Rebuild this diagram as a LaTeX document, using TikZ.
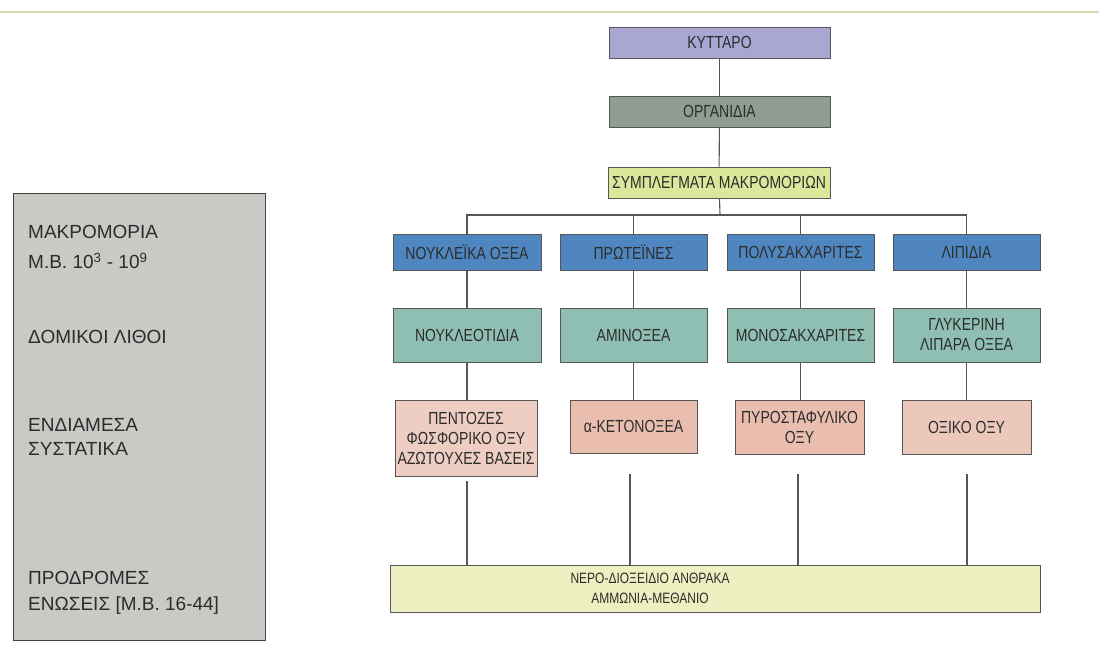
\documentclass[tikz,border=0pt]{standalone}
\usepackage{fontspec}
\setmainfont{Liberation Sans}
\newfontfamily\boxfont[FakeStretch=0.8]{Liberation Sans}
\definecolor{cellc}{HTML}{A9A6D4}
\definecolor{orgc}{HTML}{8F9C91}
\definecolor{cplxc}{HTML}{DDE79B}
\definecolor{macroc}{HTML}{4F86BF}
\definecolor{unitc}{HTML}{8FBFB2}
\definecolor{midc}{HTML}{E9BEAF}
\definecolor{basec}{HTML}{EEF0C2}
\definecolor{panelc}{HTML}{C9C9C6}
\definecolor{inkc}{HTML}{2C2C2C}
\definecolor{rulec}{HTML}{D9D9B4}
\begin{document}
\begin{tikzpicture}[x=1pt, y=-1pt,
  lvl/.style={draw=inkc!80, line width=1pt, rectangle, align=center, inner sep=1pt,
    text=inkc, font=\boxfont\fontsize{17.5}{20}\selectfont},
  side/.style={anchor=west, align=left, inner sep=0pt, text=inkc},
  link/.style={draw=inkc!80, line width=1.1pt}]
\useasboundingbox (0,0) rectangle (1099,649);
\draw[rulec, line width=1.2pt] (0,12) -- (1099,12);
% left panel
\node[draw=inkc!90, line width=1.2pt, fill=panelc, minimum width=252pt, minimum height=447pt, anchor=north west] (panel) at (13,193) {};
\node[side, font=\fontsize{19}{30}\selectfont] (lmacro) at (28,247) {ΜΑΚΡΟΜΟΡΙΑ\\Μ.Β. 10\textsuperscript{3} - 10\textsuperscript{9}};
\node[side, font=\fontsize{19}{30}\selectfont] (lunit) at (28,337) {ΔΟΜΙΚΟΙ ΛΙΘΟΙ};
\node[side, font=\fontsize{19}{24}\selectfont] (lmid) at (28,437) {ΕΝΔΙΑΜΕΣΑ\\ΣΥΣΤΑΤΙΚΑ};
\node[side, font=\fontsize{19}{26}\selectfont] (lpre) at (28,593) {ΠΡΟΔΡΟΜΕΣ\\ΕΝΩΣΕΙΣ [Μ.Β. 16-44]};
% top chain
\node[lvl, fill=cellc, minimum width=221pt, minimum height=31pt] (cell) at (719.5,42.5) {ΚΥΤΤΑΡΟ};
\node[lvl, fill=orgc, minimum width=221pt, minimum height=31pt] (org) at (719.5,111.5) {ΟΡΓΑΝΙΔΙΑ};
\node[lvl, fill=cplxc, minimum width=222pt, minimum height=31pt, inner sep=0pt] (cplx) at (719,182.5) {ΣΥΜΠΛΕΓΜΑΤΑ ΜΑΚΡΟΜΟΡΙΩΝ};
% macromolecules
\node[lvl, fill=macroc, minimum width=148pt, minimum height=36pt] (nuc) at (467,252) {ΝΟΥΚΛΕΪΚΑ ΟΞΕΑ};
\node[lvl, fill=macroc, minimum width=147pt, minimum height=36pt] (prot) at (633.5,252) {ΠΡΩΤΕΪΝΕΣ};
\node[lvl, fill=macroc, minimum width=147pt, minimum height=36pt] (poly) at (800.5,252) {ΠΟΛΥΣΑΚΧΑΡΙΤΕΣ};
\node[lvl, fill=macroc, minimum width=147pt, minimum height=36pt] (lip) at (966.5,252) {ΛΙΠΙΔΙΑ};
% building blocks
\node[lvl, fill=unitc, minimum width=148pt, minimum height=54pt] (nucu) at (467,335) {ΝΟΥΚΛΕΟΤΙΔΙΑ};
\node[lvl, fill=unitc, minimum width=147pt, minimum height=54pt] (protu) at (633.5,335) {ΑΜΙΝΟΞΕΑ};
\node[lvl, fill=unitc, minimum width=147pt, minimum height=54pt] (polyu) at (800.5,335) {ΜΟΝΟΣΑΚΧΑΡΙΤΕΣ};
\node[lvl, fill=unitc, minimum width=147pt, minimum height=54pt] (lipu) at (966.5,335) {ΓΛΥΚΕΡΙΝΗ\\ΛΙΠΑΡΑ ΟΞΕΑ};
% intermediates
\node[lvl, fill=midc!75, minimum width=142pt, minimum height=76pt] (nucm) at (466,438) {ΠΕΝΤΟΖΕΣ\\ΦΩΣΦΟΡΙΚΟ ΟΞΥ\\ΑΖΩΤΟΥΧΕΣ ΒΑΣΕΙΣ};
\node[lvl, fill=midc, minimum width=127pt, minimum height=53pt] (protm) at (633.5,426.5) {α-ΚΕΤΟΝΟΞΕΑ};
\node[lvl, fill=midc, minimum width=129pt, minimum height=54pt] (polym) at (799.5,427) {ΠΥΡΟΣΤΑΦΥΛΙΚΟ\\ΟΞΥ};
\node[lvl, fill=midc!85, minimum width=129pt, minimum height=54pt] (lipm) at (966.5,427) {ΟΞΙΚΟ ΟΞΥ};
% precursors
\node[lvl, fill=basec, minimum width=650pt, minimum height=47pt] (base) at (715,588.5) {};
\node[align=center, inner sep=0pt, text=inkc, font=\boxfont\fontsize{15}{20}\selectfont] (basetext) at (650,588.5) {ΝΕΡΟ-ΔΙΟΞΕΙΔΙΟ ΑΝΘΡΑΚΑ\\ΑΜΜΩΝΙΑ-ΜΕΘΑΝΙΟ};
% connectors
\coordinate (bus) at (720,215);
\draw[link] (cell) -- (org);
\draw[link] (org) -- (cplx);
\draw[link] (cplx) -- (bus);
\draw[link] (nuc.north) |- (bus);
\draw[link] (lip.north) |- (bus);
\draw[link] (prot.north) -- (prot.north |- bus);
\draw[link] (poly.north) -- (poly.north |- bus);
\foreach \a/\b/\c in {nuc/nucu/nucm, prot/protu/protm, poly/polyu/polym, lip/lipu/lipm} {
  \draw[link] (\a) -- (\b);
  \draw[link] (\b) -- (\b.south |- \c.north);
}
\coordinate (g1) at (467,481);
\coordinate (g2) at (630,474);
\coordinate (g3) at (798,474);
\coordinate (g4) at (967,474);
\foreach \g in {g1,g2,g3,g4}
  \draw[link] (\g) -- (\g |- base.north);
\end{tikzpicture}
\end{document}
